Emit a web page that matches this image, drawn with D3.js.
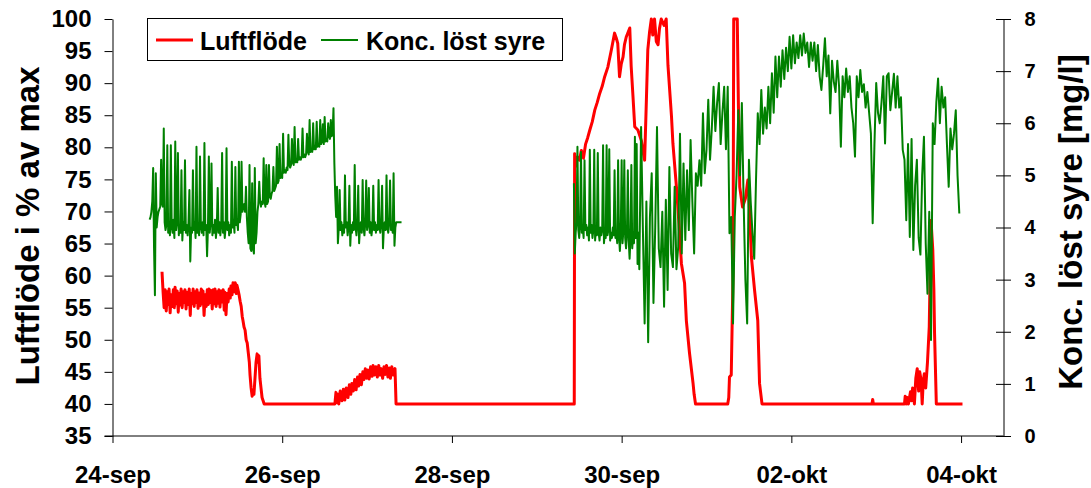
<!DOCTYPE html>
<html>
<head>
<meta charset="utf-8">
<script src="https://cdn.jsdelivr.net/npm/d3@7"></script>
<style>
  body { margin: 0; background: #fff; }
  svg { display: block; }
  text { font-family: "Liberation Sans", Arial, sans-serif; font-weight: bold; fill: #000; }
</style>
</head>
<body>
<svg id="chart" width="1091" height="488"></svg>
<script>
// ---- data -------------------------------------------------------------
const dateTicks = ["2003-09-24", "2003-09-26", "2003-09-28", "2003-09-30", "2003-10-02", "2003-10-04"];
const dateLabels = ["24-sep", "26-sep", "28-sep", "30-sep", "02-okt", "04-okt"];
const leftTicks = [35, 40, 45, 50, 55, 60, 65, 70, 75, 80, 85, 90, 95, 100];
const rightTicks = [0, 1, 2, 3, 4, 5, 6, 7, 8];
const seriesNames = ["Luftflöde", "Konc. löst syre"];
const seriesColors = ["#ff0000", "#008000"];

// Luftflöde (% av max): hours since 24-sep 00:00 and values
const airflowHours = [
  14.0, 14.3, 14.6, 14.9, 15.2, 15.5, 15.8, 16.0, 16.3, 16.6, 16.9, 17.2, 17.5, 17.7, 18.0, 18.3, 18.6, 18.8, 19.1, 19.4,
  19.7, 20.0, 20.3, 20.5, 20.8, 21.1, 21.4, 21.7, 22.0, 22.2, 22.5, 22.8, 23.1, 23.4, 23.7, 23.9, 24.2, 24.5, 24.8, 25.1,
  25.4, 25.6, 25.9, 26.2, 26.5, 26.8, 27.1, 27.3, 27.6, 27.9, 28.2, 28.5, 28.8, 29.0, 29.3, 29.6, 29.9, 30.1, 30.4, 30.7,
  31.0, 31.3, 31.6, 31.8, 32.1, 32.4, 32.7, 33.0, 33.3, 33.5, 33.8, 34.1, 34.4, 34.7, 35.0, 35.2, 35.5, 35.8, 36.1, 36.4,
  36.7, 36.9, 37.2, 37.5, 37.8, 38.1, 38.4, 38.7, 38.9, 39.2, 39.5, 39.8, 40.0, 40.3, 40.6, 40.9, 41.2, 41.4, 41.7, 42.0,
  42.3, 42.6, 42.9, 62.9, 63.2, 63.5, 63.8, 64.0, 64.4, 64.9, 65.3, 65.7, 66.1, 66.6, 67.0, 67.4, 67.7, 68.1, 68.5, 68.9,
  69.3, 69.6, 70.0, 70.4, 70.8, 71.1, 71.5, 71.9, 72.2, 72.6, 73.0, 73.4, 73.7, 74.1, 74.5, 74.9, 75.3, 75.6, 76.0, 76.4,
  76.8, 77.1, 77.5, 77.9, 78.3, 78.6, 79.0, 79.4, 79.9, 80.2, 130.6, 130.7, 131.0, 131.5, 132.1, 132.6, 133.2, 133.8, 134.4, 135.0,
  135.7, 136.4, 137.1, 137.8, 138.5, 139.2, 140.1, 141.1, 142.0, 142.5, 142.9, 143.4, 143.9, 144.4, 144.8, 145.3, 146.3, 146.7, 147.2, 147.7,
  148.6, 149.6, 150.0, 150.5, 151.0, 151.4, 151.9, 152.4, 152.8, 153.3, 153.8, 154.3, 154.7, 155.2, 156.0, 156.6, 157.1, 158.1, 158.5, 159.5,
  160.4, 160.9, 161.8, 162.3, 163.2, 164.2, 164.5, 164.9, 174.0, 174.3, 174.5, 175.0, 175.5, 175.7, 176.7, 177.0, 177.4, 178.2, 179.0, 179.7,
  180.2, 180.7, 181.6, 182.5, 183.0, 183.7, 214.8, 215.0, 215.2, 224.0, 224.2, 224.5, 224.8, 225.1, 225.7, 226.0, 226.3, 226.8, 227.2, 227.6,
  228.0, 228.3, 228.7, 229.0, 229.3, 229.6, 230.0, 230.5, 231.0, 231.5, 232.0, 232.3, 232.5, 233.0, 240.4
];
const airflowValues = [
  60.6, 57.5, 55.0, 57.8, 54.5, 57.5, 55.5, 57.9, 54.2, 57.0, 55.2, 57.8, 55.0, 58.2, 55.6, 57.6, 54.3, 57.2, 55.4, 57.9,
  55.0, 57.5, 55.8, 57.8, 54.8, 57.4, 55.5, 57.9, 53.8, 57.2, 55.6, 57.9, 55.2, 57.5, 55.8, 57.8, 54.9, 57.3, 55.3, 57.9,
  55.6, 57.6, 53.8, 57.0, 55.2, 57.8, 55.5, 57.9, 55.8, 57.7, 54.8, 57.8, 55.6, 57.9, 55.2, 57.5, 55.7, 57.8, 55.1, 57.6,
  55.9, 57.8, 54.6, 57.4, 53.9, 57.2, 55.9, 57.9, 56.5, 58.4, 57.0, 58.9, 57.5, 58.9, 57.2, 58.5, 57.8, 57.0, 56.0, 55.2,
  53.6, 53.0, 52.0, 51.5, 50.0, 49.5, 48.0, 46.5, 44.5, 42.5, 41.2, 42.0, 41.5, 44.0, 46.5, 47.8, 46.5, 47.5, 44.0, 42.5,
  41.0, 40.5, 40.0, 40.0, 41.8, 40.2, 41.5, 40.0, 42.0, 40.5, 42.3, 40.6, 42.5, 41.0, 43.0, 41.5, 43.2, 42.0, 43.8, 42.2,
  44.2, 42.8, 44.6, 43.0, 45.0, 43.8, 45.5, 44.0, 45.3, 43.9, 45.8, 44.3, 46.0, 44.5, 45.8, 44.2, 46.0, 44.5, 45.5, 44.0,
  45.8, 44.6, 46.0, 44.2, 45.6, 44.0, 45.8, 44.5, 45.5, 40.0, 40.0, 79.0, 77.0, 78.5, 78.0, 79.5, 78.3, 80.5, 81.5, 82.7,
  84.0, 85.8, 87.0, 88.4, 89.5, 91.0, 92.5, 95.2, 97.8, 97.0, 96.2, 91.0, 93.0, 94.1, 96.0, 97.2, 98.6, 92.6, 88.0, 83.2,
  82.7, 81.0, 79.5, 78.0, 87.4, 95.2, 98.0, 100.0, 97.5, 100.0, 96.5, 96.0, 98.5, 100.0, 99.0, 100.0, 92.8, 84.8, 80.6, 73.8,
  66.6, 61.9, 58.8, 53.0, 47.9, 43.2, 41.5, 40.0, 40.0, 41.0, 44.2, 44.5, 60.0, 100.0, 100.0, 87.4, 73.8, 70.7, 72.0, 74.9,
  70.0, 62.9, 57.7, 53.0, 43.2, 40.0, 40.0, 40.7, 40.0, 40.0, 41.2, 40.0, 41.0, 40.0, 41.9, 40.5, 42.5, 40.0, 44.0, 45.5,
  42.0, 45.0, 43.7, 40.0, 43.5, 44.7, 42.5, 46.5, 52.0, 68.6, 64.0, 58.0, 51.0, 40.0, 40.0
];

// Konc. löst syre (mg/l): logged readings, first period every 15 min
const oxygenAStartHour = 10.5;
const oxygenAStepHours = 0.25;
const oxygenA = [
  4.15, 4.2, 4.3, 4.5, 5.14, 3.6, 2.7, 5.04, 4.0, 4.2,
  4.3, 4.35, 4.4, 5.3, 4.45, 4.4, 5.9, 4.1, 3.95, 4.05,
  5.58, 3.9, 4.1, 3.85, 5.58, 4.0, 3.9, 4.15, 3.8, 5.65,
  3.95, 4.1, 5.43, 3.85, 4.05, 3.9, 5.1, 3.75, 4.1, 3.95,
  5.29, 3.9, 4.05, 3.85, 4.1, 4.72, 3.35, 4.0, 3.9, 5.1,
  3.95, 4.1, 3.8, 5.55, 3.9, 4.05, 3.85, 5.36, 4.0, 3.9,
  4.1, 3.85, 5.62, 3.95, 4.05, 3.45, 4.0, 5.36, 3.9, 4.1,
  5.23, 3.85, 4.05, 3.9, 4.15, 3.8, 4.0, 4.76, 3.9, 4.1,
  3.85, 4.05, 5.43, 3.9, 4.1, 3.8, 4.0, 5.52, 3.95, 4.1,
  3.85, 4.05, 3.9, 5.26, 4.0, 4.15, 3.9, 5.16, 4.05, 4.1,
  3.95, 5.26, 4.1, 4.25, 5.26, 4.3, 4.4, 4.45, 4.3, 4.78,
  4.2, 3.9, 3.7, 5.2, 3.6, 3.55, 4.85, 3.6, 3.5, 5.14,
  3.7, 3.9, 4.3, 4.45, 4.88, 4.5, 4.4, 4.5, 4.45, 5.33,
  4.5, 4.4, 5.2, 4.45, 4.5, 5.2, 4.6, 4.55, 4.65, 4.7,
  5.16, 4.7, 4.75, 4.8, 5.55, 4.85, 4.9, 5.6, 4.95, 5.0,
  4.95, 5.8, 5.05, 5.1, 5.05, 5.15, 5.1, 5.78, 5.2, 5.15,
  5.2, 5.7, 5.25, 5.2, 5.93, 5.25, 5.3, 5.25, 5.7, 5.3,
  5.35, 5.3, 5.35, 5.9, 5.35, 5.4, 5.35, 5.4, 5.8, 5.45,
  5.4, 6.06, 5.45, 5.5, 5.45, 6.0, 5.5, 5.55, 5.5, 6.03,
  5.55, 5.6, 5.55, 6.06, 5.6, 5.65, 5.98, 5.6, 6.12, 5.65,
  5.7, 5.65, 6.0, 5.75, 5.7, 6.06, 5.75, 5.8, 6.29, 5.23,
  4.6, 4.2, 4.78, 3.7, 4.0, 4.72, 3.95, 4.1, 3.85, 4.05,
  3.9, 5.0, 4.0, 4.1, 3.85, 4.0, 4.8, 3.65, 4.05, 3.9,
  4.1, 3.95, 5.2, 4.0, 3.85, 4.05, 4.8, 3.7, 4.0, 4.1,
  3.9, 4.91, 4.0, 3.85, 4.1, 4.9, 3.95, 4.05, 4.76, 3.9,
  4.1, 3.85, 4.0, 4.8, 3.95, 4.1, 3.9, 4.05, 3.95, 4.91,
  4.0, 3.9, 4.1, 4.8, 3.6, 4.0, 4.1, 3.95, 5.0, 4.0,
  3.9, 4.1, 4.9, 3.95, 4.05, 3.9, 5.04, 3.65, 4.0, 4.1,
  4.1, 4.1, 4.1, 4.1, 4.1, 4.1
];

// second period: first day every 15 min, then every 30 min
const oxygenB1StartHour = 130.5;
const oxygenB1StepHours = 0.25;
const oxygenB1 = [
  4.85, 3.5, 3.9, 4.1, 5.55, 3.95, 3.8, 4.05, 5.45, 3.9,
  4.0, 3.8, 5.29, 3.95, 4.05, 3.85, 4.0, 3.75, 5.49, 3.9,
  4.05, 3.8, 3.95, 5.49, 3.75, 4.0, 3.85, 5.43, 3.9, 3.75,
  4.0, 3.85, 3.95, 5.58, 3.7, 3.9, 3.8, 5.58, 3.85, 3.95,
  5.5, 3.75, 3.9, 3.8, 4.0, 3.85, 5.1, 3.8, 3.9, 3.7,
  5.29, 3.85, 3.55, 3.9, 5.29, 3.7, 3.95, 5.29, 3.8, 3.6,
  3.9, 5.1, 3.75, 3.4, 3.8, 5.2, 3.6, 3.9, 3.7, 5.74,
  3.8, 5.6, 3.3, 3.9, 3.2
];
const oxygenB2StartHour = 149.5;
const oxygenB2StepHours = 0.5;
const oxygenB2 = [
  5.93, 4.0,
  2.16, 4.5, 1.8, 4.2, 5.04, 2.55, 4.0, 5.93, 3.6, 3.24,
  4.3, 2.48, 4.53, 2.8, 5.16, 3.5, 3.24, 4.78, 3.2, 3.63,
  5.8, 3.5, 5.23, 3.76, 5.1, 3.95, 5.68, 4.5, 3.5, 5.04,
  4.8, 5.29, 4.8, 6.19, 5.04, 5.49, 6.45, 5.3, 5.9, 6.7,
  5.85, 6.39, 6.77, 5.6, 6.2, 6.7, 5.5, 6.7, 3.89, 4.2,
  2.16, 4.2, 5.0, 6.25, 5.0, 6.39, 4.5, 3.0, 2.16, 5.3,
  4.5, 3.9, 3.4, 4.9, 6.19, 5.6, 6.64, 5.8, 6.3, 5.9,
  6.7, 6.0, 6.96, 6.2, 7.28, 6.5, 7.28, 6.7, 7.4, 6.85,
  7.45, 7.0, 7.66, 7.05, 7.69, 7.15, 7.55, 7.25, 7.69, 7.3,
  7.72, 7.35, 7.55, 7.08, 7.55, 7.2, 7.55, 7.0, 7.5, 6.9,
  6.64, 7.1, 7.63, 6.9, 7.3, 6.19, 7.2, 6.8, 6.6, 7.2,
  6.7, 5.55, 6.9, 6.5, 7.05, 6.6, 6.9, 6.3, 6.0, 5.36,
  6.9, 6.5, 7.02, 6.6, 6.75, 6.3, 6.6, 6.2, 5.8, 4.08,
  5.6, 6.77, 6.2, 6.0, 6.4, 6.9, 5.61, 6.9, 6.96, 6.25,
  6.6, 6.95, 6.3, 6.9, 6.3, 6.5, 5.49, 5.3, 4.14, 5.6,
  3.82, 5.7, 3.57, 4.8, 5.3, 3.8, 3.48, 5.0, 5.74, 3.7,
  2.73, 4.3, 1.84, 6.0, 5.6, 6.4, 6.86, 6.0, 6.7, 6.3,
  6.5, 5.6, 4.78, 5.9, 5.5, 5.8, 6.25, 5.0, 4.27
];

// ---- layout -----------------------------------------------------------
const plot = { left: 112.5, right: 1003.5, top: 19, bottom: 436 };
const startDate = new Date(2003, 8, 24);
const endHour = 252;
const atHour = h => new Date(startDate.getTime() + h * 3600 * 1000);

const svg = d3.select("#chart");

const x = d3.scaleTime().domain([startDate, atHour(endHour)]).range([plot.left, plot.right]);
const yLeft = d3.scaleLinear().domain([35, 100]).range([plot.bottom, plot.top]);
const yRight = d3.scaleLinear().domain([0, 8]).range([plot.bottom, plot.top]);

// ---- series -----------------------------------------------------------
const airflow = airflowHours.map((h, i) => ({ t: atHour(h), v: airflowValues[i] }));
const readings = (start, step, values) => values.map((v, i) => ({ t: atHour(start + i * step), v }));
const oxygenSegments = [
  readings(oxygenAStartHour, oxygenAStepHours, oxygenA),
  readings(oxygenB1StartHour, oxygenB1StepHours, oxygenB1)
    .concat(readings(oxygenB2StartHour, oxygenB2StepHours, oxygenB2))
];

const airLine = d3.line().x(d => x(d.t)).y(d => yLeft(d.v));
const oxyLine = d3.line().x(d => x(d.t)).y(d => yRight(d.v));

svg.append("path")
  .datum(airflow)
  .attr("d", airLine)
  .attr("fill", "none")
  .attr("stroke", seriesColors[0])
  .attr("stroke-width", 3)
  .attr("stroke-linejoin", "round");

svg.append("g").selectAll("path")
  .data(oxygenSegments)
  .join("path")
  .attr("d", oxyLine)
  .attr("fill", "none")
  .attr("stroke", seriesColors[1])
  .attr("stroke-width", 2)
  .attr("stroke-linejoin", "round");

// ---- axes -------------------------------------------------------------
const xAxis = svg.append("g")
  .attr("transform", `translate(0,${plot.bottom})`)
  .call(d3.axisBottom(x)
    .tickValues(dateTicks.map(s => { const p = s.split("-"); return new Date(+p[0], +p[1] - 1, +p[2]); }))
    .tickFormat((d, i) => dateLabels[i])
    .tickSize(7)
    .tickSizeOuter(0));
xAxis.select(".domain").attr("d", `M${plot.left - 8},0H${plot.right}`);
xAxis.selectAll("text").attr("y", 47).attr("dy", 0).style("font-size", "24px");

const leftAxis = svg.append("g")
  .attr("transform", `translate(${plot.left},0)`)
  .call(d3.axisLeft(yLeft).tickValues(leftTicks).tickSize(8).tickSizeOuter(0).tickPadding(13));
leftAxis.selectAll("text").style("font-size", "24px");

const rightAxis = svg.append("g")
  .attr("transform", `translate(${plot.right},0)`)
  .call(d3.axisRight(yRight).tickValues(rightTicks).tickSize(7.5).tickSizeOuter(0));
rightAxis.selectAll(".tick line").attr("x1", -7.5);
rightAxis.selectAll("text").attr("x", 21).style("font-size", "20px");

svg.selectAll(".domain, .tick line").attr("stroke", "#000");
svg.selectAll(".tick text").attr("fill", "#000");
svg.selectAll("g").attr("font-family", null);

// ---- axis titles ------------------------------------------------------
svg.append("text")
  .attr("transform", "translate(38.5,226) rotate(-90)")
  .attr("text-anchor", "middle")
  .style("font-size", "33px")
  .text("Luftflöde i % av max");

svg.append("text")
  .attr("transform", "translate(1082,222) rotate(-90)")
  .attr("text-anchor", "middle")
  .style("font-size", "33px")
  .text("Konc. löst syre [mg/l]");

// ---- legend -----------------------------------------------------------
const legend = svg.append("g");
legend.append("rect")
  .attr("x", 147.5).attr("y", 18.5).attr("width", 415).attr("height", 42)
  .attr("fill", "#fff").attr("stroke", "#000").attr("stroke-width", 1);

const legendItems = [
  { name: seriesNames[0], color: seriesColors[0], width: 3, x0: 156, x1: 193, tx: 200 },
  { name: seriesNames[1], color: seriesColors[1], width: 2, x0: 321, x1: 358, tx: 366 }
];
legendItems.forEach(it => {
  legend.append("line")
    .attr("x1", it.x0).attr("x2", it.x1).attr("y1", 40).attr("y2", 40)
    .attr("stroke", it.color).attr("stroke-width", it.width);
  legend.append("text")
    .attr("x", it.tx).attr("y", 49.5)
    .style("font-size", "25px")
    .text(it.name);
});
</script>
</body>
</html>
